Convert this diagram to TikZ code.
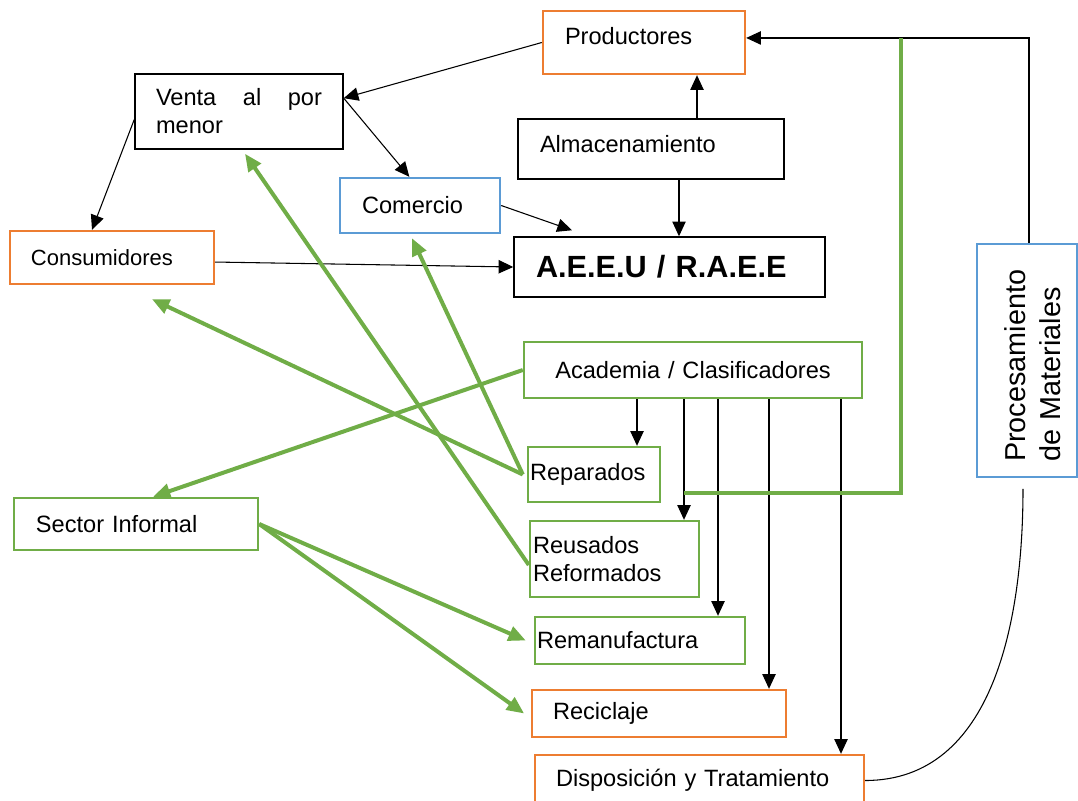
\documentclass[tikz,border=0pt]{standalone}
\usepackage{fontspec}
\setmainfont{Liberation Sans}
\usetikzlibrary{arrows.meta}
\definecolor{naranja}{HTML}{ED7D31}
\definecolor{verde}{HTML}{70AD47}
\definecolor{azul}{HTML}{5B9BD5}
\hyphenpenalty=10000
\begin{document}
\begin{tikzpicture}[x=0.75pt,y=-0.75pt,font=\fontsize{17.7}{21}\selectfont,>={Triangle[length=11pt,width=10pt]},
	caja/.style={draw,line width=1.1pt,align=left,inner ysep=0pt},
	cajanaranja/.style={caja,draw=naranja,line width=1.8pt},
	cajaverde/.style={caja,draw=verde,line width=1.8pt},
	cajaazul/.style={caja,draw=azul,line width=1.8pt},
	flecha/.style={->,line width=0.8pt},
	flechaverde/.style={-{Triangle[length=13pt,width=11pt]},draw=verde,line width=3pt},
	lineaverde/.style={draw=verde,line width=3pt}]
		\useasboundingbox (0,0) rectangle (1078,800);
		% cajas
		\node[cajanaranja,minimum width=151.5pt,minimum height=47.25pt,inner xsep=16.5pt,text width=118.5pt,text depth=10pt] (prod) at (644,42.5) {Productores};
		\node[caja,minimum width=156pt,minimum height=56.25pt,inner xsep=15.75pt,text width=124.5pt] (venta) at (239,111.5) {\hbox to 124.5pt{Venta\hfill al\hfill por}\\menor};
		\node[caja,minimum width=199.5pt,minimum height=45pt,inner xsep=16.5pt,text width=166.5pt,text depth=7pt] (alma) at (651,149) {Almacenamiento};
		\node[cajaazul,minimum width=120pt,minimum height=41.25pt,inner xsep=16.5pt,text width=87pt] (com) at (420,205.5) {Comercio};
		\node[cajanaranja,minimum width=153pt,minimum height=39.75pt,inner xsep=15.75pt,text width=121.5pt,font=\fontsize{16.5}{20}\selectfont] (cons) at (112,257.5) {Consumidores};
		\node[caja,minimum width=233.25pt,minimum height=45pt,inner xsep=16.5pt,text width=200.25pt,font=\fontsize{23}{27}\selectfont\bfseries] (raee) at (669.5,267) {A.E.E.U / R.A.E.E};
		\node[cajaverde,align=center,minimum width=253.5pt,minimum height=42pt,inner xsep=11.75pt,text width=230pt] (acad) at (693,370) {Academia / Clasificadores};
		\node[cajaverde,minimum width=99pt,minimum height=41.25pt,inner xsep=1.5pt,text width=96pt] (rep) at (594,474.5) {Reparados};
		\node[cajaverde,minimum width=183pt,minimum height=39pt,inner xsep=16.5pt,text width=150pt] (sect) at (136,524) {Sector Informal};
		\node[cajaverde,minimum width=126.75pt,minimum height=57pt,inner xsep=2.25pt,text width=122.25pt] (reus) at (614.5,559) {Reusados\\Reformados};
		\node[cajaverde,minimum width=157.5pt,minimum height=35.25pt,inner xsep=1.5pt,text width=154.5pt] (reman) at (640,640.5) {Remanufactura};
		\node[cajanaranja,minimum width=190.5pt,minimum height=35.25pt,inner xsep=15.75pt,text width=159pt] (recic) at (659,713.5) {Reciclaje};
		\node[cajanaranja,minimum width=246.75pt,minimum height=38.25pt,inner xsep=15.75pt,text width=215.25pt] (disp) at (699.5,780.5) {Disposición y Tratamiento};
		\node[cajaazul,rotate=90,minimum width=174.75pt,minimum height=75pt,inner xsep=11.25pt,text width=152pt,text height=24pt,font=\fontsize{21.6}{26.25}\selectfont] (proc) at (1027,360.5) {Procesamiento\\de Materiales};
		% flechas negras
		\draw[flecha] (prod.west)--([yshift=10pt]venta.east);
		\draw[flecha] ([yshift=-6pt]venta.west)--([xshift=-15pt]cons.north);
		\draw[flecha] ([yshift=10pt]venta.east)--([xshift=-8pt]com.north);
		\coordinate (al1) at ([xshift=34.5pt]alma.north);
		\coordinate (al2) at ([xshift=21pt]alma.south);
		\draw[flecha] (al1)--(al1 |- prod.south);
		\draw[flecha] (al2)--(al2 |- raee.north);
		\draw[flecha] (com.east)--([xshift=44pt,yshift=4.5pt]raee.north west);
		\draw[flecha] ([yshift=-3.4pt]cons.east)--(raee.west);
		\draw[flecha] ([xshift=1.5pt]proc.east) |- ([yshift=3.4pt]prod.east);
		\coordinate (procb) at ([xshift=-3pt,yshift=-8pt]proc.west);
		\draw[line width=0.8pt] (disp.east) to[out=0,in=-90] (procb);
		% salidas de academia
		\coordinate (ac1) at ([xshift=-42pt]acad.south);
		\coordinate (ac2) at ([xshift=-6.75pt]acad.south);
		\coordinate (ac3) at ([xshift=18.75pt]acad.south);
		\coordinate (ac4) at ([xshift=57pt]acad.south);
		\coordinate (ac5) at ([xshift=111pt]acad.south);
		\draw[flecha] (ac1)--(ac1 |- rep.north);
		\draw[flecha] (ac2)--(ac2 |- reus.north);
		\draw[flecha] (ac3)--(ac3 |- reman.north);
		\draw[flecha] (ac4)--(ac4 |- recic.north);
		\draw[flecha] (ac5)--(ac5 |- disp.north);
		% linea verde
		\coordinate (g1) at (ac2 |- 0,493);
		\coordinate (g2) at (901,38);
		\draw[lineaverde] (g1) -| (g2);
		% flechas verdes
		\draw[flechaverde] ([xshift=-3pt]rep.west)--([xshift=30pt,yshift=-10.5pt]cons.south);
		\draw[flechaverde] ([xshift=-3pt]rep.west)--([xshift=-6pt,yshift=-3pt]com.south);
		\draw[flechaverde] ([yshift=-4.5pt]reus.west)--([xshift=4.5pt,yshift=-3pt]venta.south);
		\draw[flechaverde] (acad.west)--([xshift=12.75pt]sect.north);
		\draw[flechaverde] (sect.east)--([xshift=-6pt]reman.west);
		\draw[flechaverde] (sect.east)--([xshift=-5pt]recic.west);
	\end{tikzpicture}
\end{document}
